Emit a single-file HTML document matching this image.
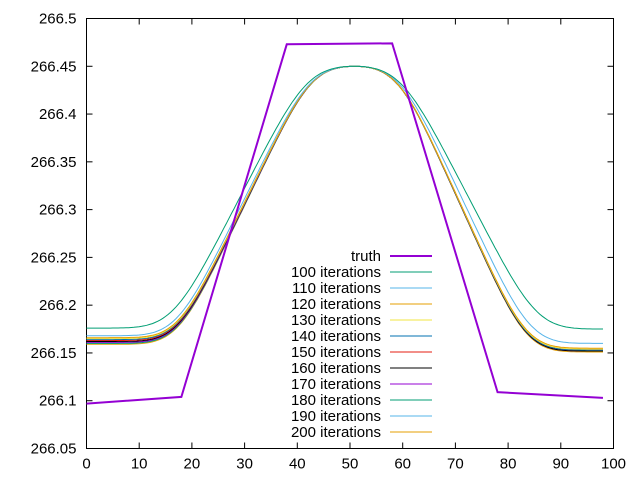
<!DOCTYPE html>
<html><head><meta charset="utf-8"><style>
body{margin:0;background:#fff;}
svg{display:block;font-family:"Liberation Sans",sans-serif;font-size:15px;}
</style></head><body>
<svg id="s" width="640" height="480" xmlns="http://www.w3.org/2000/svg">
<g stroke="#000" stroke-width="1" fill="none">
<rect x="86.5" y="18.5" width="527" height="430"/>
</g>
<g id="ticks" stroke="#000" stroke-width="1"></g>
<g id="lab" fill="#000"></g>
<g id="series" fill="none"></g>
<g id="leg"></g>
</svg>
<script>
var L=86.5,R=613.5,T=18.5,B=448.5;
function px(x){return L+(x/100)*(R-L);}
function py(y){return B-(y-266.05)/0.45*(B-T);}
var ns="http://www.w3.org/2000/svg";
function el(p,t,a,txt){var e=document.createElementNS(ns,t);for(var k in a)e.setAttribute(k,a[k]);if(txt!=null)e.textContent=txt;document.getElementById(p).appendChild(e);return e;}
for(var i=0;i<=9;i++){var v=266.05+i*0.05,y=py(v);
 el("ticks","line",{x1:L,y1:y,x2:L+6,y2:y});el("ticks","line",{x1:R,y1:y,x2:R-6,y2:y});
 var s=(Math.round(v*100)/100).toString();
 el("lab","text",{x:L-10,y:y+5,"text-anchor":"end"},s);}
for(var i=0;i<=10;i++){var x=px(i*10);
 el("ticks","line",{x1:x,y1:B,x2:x,y2:B-6});el("ticks","line",{x1:x,y1:T,x2:x,y2:T+6});
 el("lab","text",{x:x,y:B+20,"text-anchor":"middle"},String(i*10));}
function trap(x,a,b,c,e){if(x<=a||x>=e)return 0;if(x<b)return (x-a)/(b-a);if(x<=c)return 1;return (e-x)/(e-c);}
function curve(lo,hi,a,b,c,e,sg,col){
 var f=function(x){var s=0,w=0;for(var t=-4*sg;t<=4*sg;t+=0.25){var g=Math.exp(-t*t/(2*sg*sg));s+=g*trap(x+t,a,b,c,e);w+=g;}return s/w;};
 var m=0;for(var x=38;x<=60;x+=0.5)m=Math.max(m,f(x));
 var pth="";for(var x=0;x<=98;x+=0.5){var v0=f(x)/m;var l=x<49?lo:hi;var v=l+(266.45-l)*v0;pth+=(pth?"L":"M")+px(x).toFixed(1)+","+py(v).toFixed(1);}
 el("series","path",{d:pth,stroke:col,"stroke-width":1});}
var cols=["#009e73","#56b4e9","#e69f00","#f0e442","#0072b2","#e51e10","#000000","#9400d3","#009e73","#56b4e9","#e69f00"];
var los=[266.176,266.168,266.166,266.165,266.164,266.163,266.162,266.161,266.160,266.160,266.159];
var his=[266.175,266.160,266.155,266.154,266.153,266.153,266.152,266.152,266.152,266.152,266.151];
for(var i=10;i>=0;i--){var k=i;
 if(k==0)curve(los[k],his[k],16.3,42,59.5,85.5,4.3,cols[k]);
 else if(k==1)curve(los[k],his[k],17,42.6,59.3,84.3,4.1,cols[k]);
 else curve(los[k],his[k],17.3,42.8,59,83.5,4,cols[k]);}
var tr=[[0,266.097],[18,266.104],[38,266.473],[58,266.474],[78,266.109],[98,266.103]];
el("series","path",{d:"M"+tr.map(function(p){return px(p[0])+","+py(p[1]);}).join("L"),stroke:"#9400d3","stroke-width":2});
var names=["truth","100 iterations","110 iterations","120 iterations","130 iterations","140 iterations","150 iterations","160 iterations","170 iterations","180 iterations","190 iterations","200 iterations"];
for(var i=0;i<12;i++){var y=256+i*16;
 el("leg","text",{x:381,y:y+5,"text-anchor":"end",fill:"#000"},names[i]);
 el("leg","line",{x1:390,y1:y,x2:432,y2:y,stroke:i==0?"#9400d3":cols[i-1],"stroke-width":i==0?2:1});}
</script>
</body></html>
